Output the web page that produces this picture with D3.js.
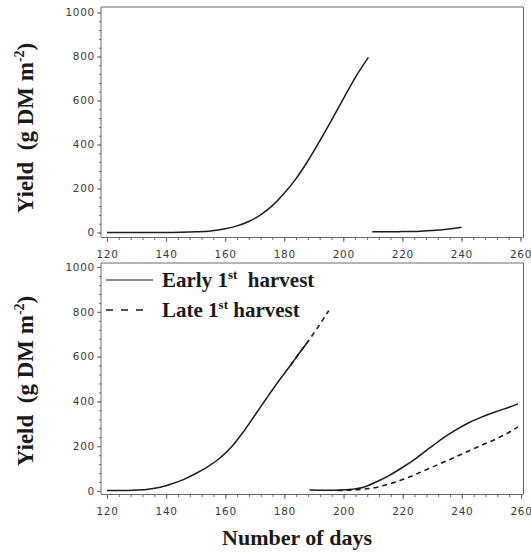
<!DOCTYPE html>
<html>
<head>
<meta charset="utf-8">
<script src="https://cdn.jsdelivr.net/npm/d3@7/dist/d3.min.js"></script>
<style>
  html, body { margin: 0; padding: 0; background: #fff; }
  svg { display: block; }
  text { white-space: pre; }
</style>
</head>
<body>
<svg id="chart" width="531" height="553"></svg>
<script>
// Tick values
const xMajorTicks = [120, 140, 160, 180, 200, 220, 240, 260];
const yMajorTicks = [0, 200, 400, 600, 800, 1000];

// Upper panel: single crop, first growth and regrowth (day, yield)
const upperFirstDays  = [120, 130, 140, 145, 150, 155, 160, 164, 168, 172, 176, 180, 184, 188, 192, 196, 200, 204, 208.5];
const upperFirstYield = [0, 0, 0, 1, 3, 7, 17, 30, 50, 80, 122, 178, 245, 325, 415, 510, 607, 703, 796];
const upperRegrowDays  = [209.8, 215, 220, 225, 230, 235, 240];
const upperRegrowYield = [3, 3, 4, 5, 9, 15, 24];

// Lower panel: early vs late first harvest
const earlyFirstDays  = [120, 126, 130, 134, 138, 142, 146, 150, 154, 158, 162, 166, 170, 174, 178, 182, 185, 188];
const earlyFirstYield = [2, 2, 4, 8, 17, 32, 52, 78, 108, 145, 195, 262, 338, 415, 490, 560, 615, 668];
const lateFirstDays   = [182, 185, 188, 191, 194, 195];
const lateFirstYield  = [560, 615, 668, 725, 785, 805];
const earlyRegrowDays  = [188.5, 194, 199, 203, 206.5, 211, 215.5, 220, 224.5, 229, 233.5, 238, 242.5, 247, 251.5, 256, 259];
const earlyRegrowYield = [4, 3, 4, 8, 16, 40, 70, 106, 146, 191, 235, 273, 306, 332, 354, 374, 389];
const lateRegrowDays  = [198, 202, 206.5, 211, 215.5, 220, 224.5, 229, 233.5, 238, 242.5, 247, 251.5, 256, 259];
const lateRegrowYield = [2, 4, 8, 16, 32, 51, 75, 101, 127, 153, 180, 206, 232, 262, 286];

const zip = (xs, ys) => xs.map((d, i) => [d, ys[i]]);

const svg = d3.select("#chart");
const tickFont = "'DejaVu Sans', sans-serif";
const titleFont = "'Liberation Serif', 'Times New Roman', serif";

function drawPanel(p) {
  const x = d3.scaleLinear().domain([120, 260]).range([p.x120, p.x260]);
  const y = d3.scaleLinear().domain([0, 1000]).range([p.y0, p.y1000]);
  const g = svg.append("g");

  // frame (left, top, right)
  g.append("path")
    .attr("d", `M${p.left},${p.bottom}V${p.top}H${p.right}V${p.bottom}`)
    .attr("fill", "none").attr("stroke", "#6a6a6a").attr("stroke-width", 1);

  // x axis: minor ticks every 4 days, labelled major ticks every 20
  const xMinor = g.append("g").attr("transform", `translate(0,${p.bottom})`)
    .call(d3.axisBottom(x).tickValues(d3.range(120, 261, 4)).tickSize(3).tickFormat(""));
  xMinor.select(".domain").attr("d", `M${p.left},0.5H${p.right}`).attr("stroke", "#6a6a6a");
  const xMajor = g.append("g").attr("transform", `translate(0,${p.bottom})`)
    .call(d3.axisBottom(x).tickValues(xMajorTicks).tickSize(5).tickPadding(9).tickFormat(d3.format("d")));
  xMajor.select(".domain").remove();

  // y axis: minor ticks every 40, labelled major ticks every 200
  const yMinor = g.append("g").attr("transform", `translate(${p.left},0)`)
    .call(d3.axisLeft(y).tickValues(d3.range(0, 1001, 40)).tickSize(2).tickFormat(""));
  yMinor.select(".domain").remove();
  const yMajor = g.append("g").attr("transform", `translate(${p.left},0)`)
    .call(d3.axisLeft(y).tickValues(yMajorTicks).tickSize(4).tickPadding(2).tickFormat(d3.format("d")));
  yMajor.select(".domain").remove();

  g.selectAll(".tick line").attr("stroke", "#6a6a6a");
  g.selectAll(".tick text")
    .attr("font-family", tickFont).attr("font-size", 10.5)
    .attr("letter-spacing", "0.7px").attr("fill", "#3a3a3a");

  // y axis title
  const ty = g.append("text")
    .attr("transform", `translate(${p.titleX},${p.titleY}) rotate(-90)`)
    .attr("text-anchor", "middle")
    .attr("font-family", titleFont).attr("font-weight", "bold")
    .attr("font-size", 23).attr("fill", "#1a1a1a");
  ty.append("tspan").text("Yield  (g DM m");
  ty.append("tspan").attr("font-size", 14).attr("dy", -9).text("-2");
  ty.append("tspan").attr("dy", 9).text(")");

  return { g, x, y };
}

const line = (x, y) => d3.line().x(d => x(d[0])).y(d => y(d[1])).curve(d3.curveMonotoneX);

// ---- upper panel ----
const up = drawPanel({
  left: 101, right: 523.5, top: 7, bottom: 237,
  x120: 107, x260: 520.5, y0: 232.5, y1000: 12.5,
  titleX: 33, titleY: 128
});
[zip(upperFirstDays, upperFirstYield), zip(upperRegrowDays, upperRegrowYield)].forEach(s => {
  up.g.append("path").datum(s)
    .attr("d", line(up.x, up.y))
    .attr("fill", "none").attr("stroke", "#1c1c1c").attr("stroke-width", 1.5);
});

// ---- lower panel ----
const lo = drawPanel({
  left: 101, right: 523.5, top: 263, bottom: 494,
  x120: 107, x260: 521, y0: 491, y1000: 267,
  titleX: 33, titleY: 381
});
[zip(lateFirstDays, lateFirstYield), zip(lateRegrowDays, lateRegrowYield)].forEach(s => {
  lo.g.append("path").datum(s)
    .attr("d", line(lo.x, lo.y))
    .attr("fill", "none").attr("stroke", "#1c1c1c").attr("stroke-width", 1.6)
    .attr("stroke-dasharray", "5,4");
});
[zip(earlyFirstDays, earlyFirstYield), zip(earlyRegrowDays, earlyRegrowYield)].forEach(s => {
  lo.g.append("path").datum(s)
    .attr("d", line(lo.x, lo.y))
    .attr("fill", "none").attr("stroke", "#1c1c1c").attr("stroke-width", 1.5);
});

// legend
const legend = [
  { label: "Early 1", sup: "st", rest: "  harvest", dash: null, y: 280 },
  { label: "Late 1", sup: "st", rest: " harvest", dash: "7,8", y: 310 }
];
legend.forEach((d, i) => {
  lo.g.append("line")
    .attr("x1", 106).attr("x2", i === 0 ? 153 : 144)
    .attr("y1", d.y).attr("y2", d.y)
    .attr("stroke", "#1c1c1c").attr("stroke-width", i === 0 ? 1 : 1.6)
    .attr("stroke-dasharray", d.dash);
  const t = lo.g.append("text")
    .attr("x", 162).attr("y", d.y + 7)
    .attr("font-family", titleFont).attr("font-weight", "bold")
    .attr("font-size", 21).attr("fill", "#1a1a1a");
  t.append("tspan").text(d.label);
  t.append("tspan").attr("font-size", 13).attr("dy", -8).text(d.sup);
  t.append("tspan").attr("dy", 8).text(d.rest);
});

// x axis title
svg.append("text")
  .attr("x", 297).attr("y", 545)
  .attr("text-anchor", "middle")
  .attr("font-family", titleFont).attr("font-weight", "bold")
  .attr("font-size", 22).attr("fill", "#1a1a1a")
  .text("Number of days");
</script>
</body>
</html>
